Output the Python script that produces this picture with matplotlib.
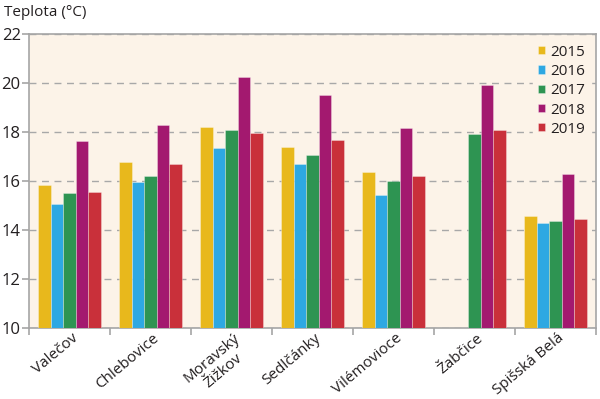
import matplotlib
matplotlib.use("Agg")
import matplotlib.pyplot as plt
import matplotlib.transforms as mtransforms
import numpy as np

plt.rcParams['font.family'] = ['Open Sans', 'DejaVu Sans']

stations = ["Valečov", "Chlebovice", "Moravský\nŽižkov", "Sedlčánky", "Vilémovioce", "Žabčice", "Spišská Belá"]
years = ["2015", "2016", "2017", "2018", "2019"]
v2015 = [15.84, 16.76, 18.22, 17.38, 16.36, np.nan, 14.57]
v2016 = [15.08, 15.97, 17.35, 16.71, 15.43, np.nan, 14.27]
v2017 = [15.50, 16.19, 18.09, 17.05, 15.99, 17.90, 14.38]
v2018 = [17.65, 18.27, 20.26, 19.50, 18.15, 19.92, 16.28]
v2019 = [15.54, 16.71, 17.96, 17.66, 16.20, 18.07, 14.46]
series = [v2015, v2016, v2017, v2018, v2019]
colors = ["#E8B81C", "#2EA8E2", "#2E9452", "#A3196F", "#C9303A"]

fig = plt.figure(figsize=(6.0, 3.99), dpi=100)
ax = fig.add_axes([29/600, 1-328/399, 567/600, 294/399])
bg = "#FCF3E8"
ax.set_facecolor(bg)

n = len(stations)
x = np.arange(n)
w = 0.156
for i, (vals, c) in enumerate(zip(series, colors)):
    vals = np.array(vals, dtype=float)
    ax.bar(x + (i - 2) * w, vals - 10, bottom=10, width=w, color=c,
           edgecolor=(1, 1, 1, 0.35), linewidth=0.6, label=years[i], zorder=3)

ax.set_xlim(-0.5, n - 0.5)
ax.set_ylim(10, 22)
ax.set_yticks([10, 12, 14, 16, 18, 20, 22])
ax.yaxis.grid(True, linestyle=(0, (5, 4)), color="#A8A8A8", linewidth=1.0, zorder=0)
ax.set_axisbelow(True)

for s in ax.spines.values():
    s.set_color("#A5A5A5")
    s.set_linewidth(1.2)

ax.set_xticks(np.arange(n + 1) - 0.5)
ax.set_xticklabels([])
ax.set_xticks(x, minor=True)
ax.set_xticklabels(stations, minor=True, rotation=40, ha="right", rotation_mode="anchor",
                   fontsize=11, color="#231F20", multialignment="center", linespacing=1.15)
ax.tick_params(axis="x", which="minor", length=0, pad=2)
ax.tick_params(axis="x", which="major", length=5, color="#A5A5A5", width=1.2)
ax.tick_params(axis="y", length=5, color="#A5A5A5", width=1.2, labelsize=12, labelcolor="#231F20", pad=1)
offset = mtransforms.ScaledTranslation(2/100, 0, fig.dpi_scale_trans)
for lab in ax.get_xticklabels(minor=True):
    lab.set_transform(lab.get_transform() + offset)

fig.text(4/600, 1-13/399, "Teplota (°C)", fontsize=11, color="#231F20", va="center", ha="left")

leg = ax.legend(loc="upper right", frameon=True, fontsize=11, handlelength=0.45, handleheight=0.45,
                handletextpad=0.35, labelspacing=0.28, borderaxespad=0.35, borderpad=0.35)
leg.get_frame().set_facecolor(bg)
leg.get_frame().set_edgecolor(bg)
leg.get_frame().set_alpha(1)
leg.get_frame().set_boxstyle("square", pad=0)
for t in leg.get_texts():
    t.set_color("#231F20")

fig.savefig("out.png", dpi=100, facecolor="white")
